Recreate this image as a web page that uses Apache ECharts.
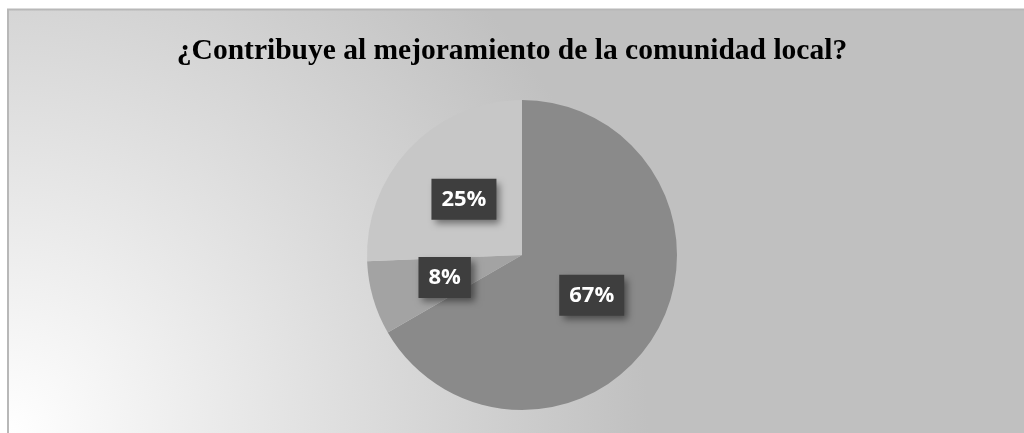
<!DOCTYPE html>
<html>
<head>
<meta charset="utf-8">
<script src="https://cdn.jsdelivr.net/npm/echarts@6/dist/echarts.min.js"></script>
<style>
html,body{margin:0;padding:0;background:#fff;}
#c{width:1024px;height:433px;}
</style>
</head>
<body>
<div id="c"></div>
<script>
const titleText = '¿Contribuye al mejoramiento de la comunidad local?';
const categories = ['Sí', 'No', 'A veces'];
const values = [26, 3, 10];
const sliceColors = ['#8a8a8a', '#a3a3a3', '#c7c7c7'];

const chart = echarts.init(document.getElementById('c'), null, {renderer: 'canvas'});
chart.setOption({
  animation: false,
  graphic: [{
    type: 'rect',
    z: -10,
    shape: {x: 8, y: 9.5, width: 1030, height: 440},
    style: {
      fill: new echarts.graphic.RadialGradient(8, 433, 640, [
        {offset: 0, color: '#ffffff'},
        {offset: 1, color: '#c0c0c0'}
      ], true),
      stroke: '#b8b8b8',
      lineWidth: 2
    }
  }],
  title: {
    text: titleText,
    left: 'center',
    top: 31,
    textStyle: {
      fontFamily: 'Liberation Serif',
      fontWeight: 'bold',
      fontSize: 29.5,
      color: '#000'
    }
  },
  series: [{
    type: 'pie',
    center: [522, 255],
    radius: [0, 155],
    startAngle: 90,
    clockwise: true,
    percentPrecision: 0,
    silent: true,
    data: categories.map((n, i) => ({name: n, value: values[i], itemStyle: {color: sliceColors[i]}})),
    label: {
      show: true,
      position: 'inside',
      formatter: '{d}%',
      color: '#fff',
      fontFamily: 'Open Sans',
      fontWeight: 'bold',
      fontSize: 22,
      lineHeight: 24,
      backgroundColor: '#3e3e3e',
      padding: [9, 10, 8, 10],
      shadowColor: 'rgba(0,0,0,0.45)',
      shadowBlur: 7,
      shadowOffsetX: 4,
      shadowOffsetY: 4
    },
    labelLine: {show: false}
  }]
});
</script>
</body>
</html>
